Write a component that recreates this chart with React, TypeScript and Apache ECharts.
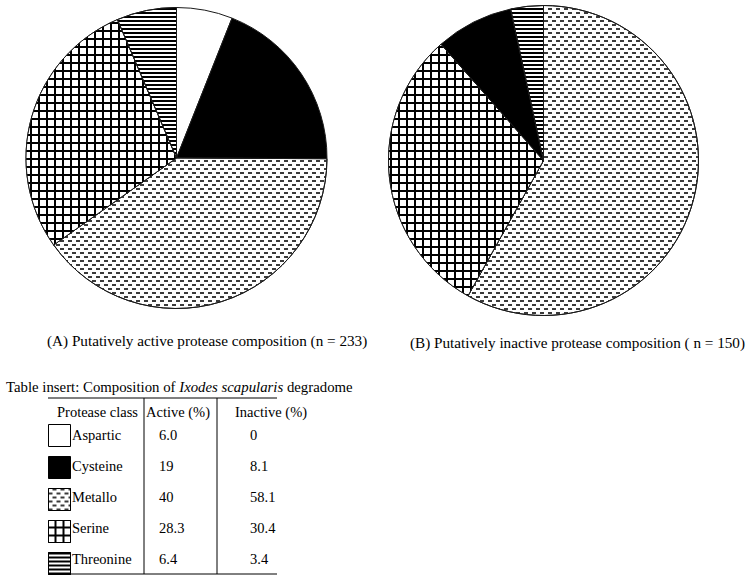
import React, { useEffect, useRef } from 'react';
import * as echarts from 'echarts';

const categories = ['Aspartic', 'Cysteine', 'Metallo', 'Serine', 'Threonine'];
const activeLabels = ['6.0', '19', '40', '28.3', '6.4'];
const inactiveLabels = ['0', '8.1', '58.1', '30.4', '3.4'];
const activeValues = activeLabels.map(Number);
const inactiveValues = inactiveLabels.map(Number);
const inactiveSliceOrder = ['Metallo', 'Serine', 'Cysteine', 'Threonine'];
const tableHeaders = ['Protease class', 'Active (%)', 'Inactive (%)'];
const captionA = '(A) Putatively active protease composition (n = 233)';
const captionB = '(B) Putatively inactive protease composition ( n = 150)';

const FONT = 'Liberation Serif';

const sliceStyles: Record<string, any> = {
  Aspartic: { color: '#ffffff' },
  Cysteine: { color: '#000000' },
  Metallo: {
    color: '#ffffff',
    decal: {
      symbol: 'rect',
      symbolSize: 1,
      color: '#3a3a3a',
      dashArrayX: [[4, 3.5], [0, 3.5, 4, 0]],
      dashArrayY: [1.5, 2],
    },
  },
  Serine: {
    color: '#000000',
    decal: {
      symbol: 'rect',
      symbolSize: 1,
      color: '#ffffff',
      dashArrayX: [5.5, 1.5],
      dashArrayY: [5.5, 1.5],
    },
  },
  Threonine: {
    color: '#ffffff',
    decal: {
      symbol: 'rect',
      symbolSize: 1,
      color: '#000000',
      dashArrayX: [1, 0],
      dashArrayY: [1.5, 1.5],
    },
  },
};

export default function App() {
  const ref = useRef<HTMLDivElement>(null);

  useEffect(() => {
    if (!ref.current) return;
    const chart = echarts.init(ref.current, undefined, { renderer: 'svg' });

    const rowY0 = 435;
    const rowStep = 31;
    const textStyle = (extra: any) => ({
      fill: '#000',
      fontFamily: FONT,
      fontSize: 14.5,
      ...extra,
    });

    const graphics: any[] = [
      {
        type: 'text',
        x: 6,
        y: 387,
        style: textStyle({
          text: 'Table insert: Composition of {i|Ixodes scapularis} degradome',
          verticalAlign: 'middle',
          fontSize: 14.8,
          rich: { i: { fontStyle: 'italic', fontFamily: FONT, fontSize: 14.8, fill: '#000' } },
        }),
      },
      { type: 'line', shape: { x1: 48, y1: 398, x2: 277, y2: 398 }, style: { stroke: '#000', lineWidth: 1 } },
      { type: 'line', shape: { x1: 48, y1: 574, x2: 277, y2: 574 }, style: { stroke: '#000', lineWidth: 1 } },
      { type: 'line', shape: { x1: 144, y1: 398, x2: 144, y2: 574 }, style: { stroke: '#000', lineWidth: 1 } },
      { type: 'line', shape: { x1: 217, y1: 398, x2: 217, y2: 574 }, style: { stroke: '#000', lineWidth: 1 } },
      { type: 'text', x: 57, y: 412, style: textStyle({ text: tableHeaders[0], verticalAlign: 'middle' }) },
      { type: 'text', x: 146, y: 412, style: textStyle({ text: tableHeaders[1], verticalAlign: 'middle' }) },
      { type: 'text', x: 235, y: 412, style: textStyle({ text: tableHeaders[2], verticalAlign: 'middle' }) },
      { type: 'text', x: 47, y: 340, style: textStyle({ text: captionA, verticalAlign: 'middle', fontSize: 15.2 }) },
      { type: 'text', x: 745, y: 342, style: textStyle({ text: captionB, verticalAlign: 'middle', align: 'right', fontSize: 15.2 }) },
    ];
    categories.forEach((c, i) => {
      const y = rowY0 + i * rowStep;
      graphics.push({ type: 'text', x: 72, y, style: textStyle({ text: c, verticalAlign: 'middle' }) });
      graphics.push({ type: 'text', x: 159, y, style: textStyle({ text: activeLabels[i], verticalAlign: 'middle' }) });
      graphics.push({ type: 'text', x: 250, y, style: textStyle({ text: inactiveLabels[i], verticalAlign: 'middle' }) });
    });

    const pieCommon = {
      type: 'pie',
      startAngle: 90,
      clockwise: true,
      silent: true,
      label: { show: false },
      labelLine: { show: false },
      emphasis: { disabled: true },
      itemStyle: { borderColor: '#1a1a1a', borderWidth: 1 },
    };

    chart.setOption({
      animation: false,
      backgroundColor: '#ffffff',
      legend: {
        orient: 'vertical',
        left: 48,
        top: 424,
        height: 200,
        padding: 0,
        itemWidth: 22,
        itemHeight: 22,
        itemGap: 9,
        icon: 'rect',
        selectedMode: false,
        data: categories,
        formatter: () => '',
        itemStyle: { borderColor: '#000', borderWidth: 1 },
        textStyle: { color: '#000', fontFamily: FONT, fontSize: 14.5 },
      },
      series: [
        {
          ...pieCommon,
          name: 'Active',
          center: [176.5, 158],
          radius: 150.5,
          data: categories.map((c, i) => ({ name: c, value: activeValues[i], itemStyle: sliceStyles[c] })),
        },
        {
          ...pieCommon,
          name: 'Inactive',
          center: [543.5, 160.5],
          radius: 155,
          data: inactiveSliceOrder.map((c) => ({
            name: c,
            value: inactiveValues[categories.indexOf(c)],
            itemStyle: sliceStyles[c],
          })),
        },
      ],
      graphic: graphics,
    });

    return () => chart.dispose();
  }, []);

  return (
    <div
      ref={ref}
      style={{ position: 'absolute', left: 0, top: 0, width: 751, height: 580 }}
    />
  );
}
